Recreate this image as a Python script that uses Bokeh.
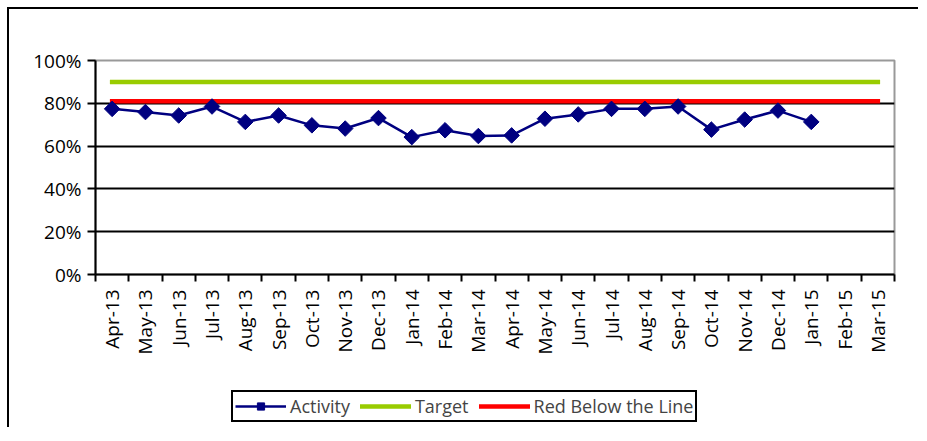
from bokeh.plotting import figure
from bokeh.layouts import column
from bokeh.models import FixedTicker, Legend, LegendItem, ColumnDataSource
from bokeh.embed import file_html
from bokeh.resources import INLINE

months = ["Apr-13", "May-13", "Jun-13", "Jul-13", "Aug-13", "Sep-13", "Oct-13", "Nov-13",
          "Dec-13", "Jan-14", "Feb-14", "Mar-14", "Apr-14", "May-14", "Jun-14", "Jul-14",
          "Aug-14", "Sep-14", "Oct-14", "Nov-14", "Dec-14", "Jan-15", "Feb-15", "Mar-15"]
activity = [77.4, 75.9, 74.3, 78.5, 71.3, 74.3, 69.7, 68.2, 73.1, 64.2, 67.4, 64.7,
            65.0, 72.8, 74.8, 77.4, 77.4, 78.5, 67.7, 72.4, 76.6, 71.3]
target = [90.0] * 24
red_line = [81.0] * 24
y_ticks = [0, 20, 40, 60, 80, 100]
y_labels = ["0%", "20%", "40%", "60%", "80%", "100%"]

FONT = "Open Sans"
FS = "19px"
NAVY, GREEN, RED = "#000080", "#99CC00", "#FF0000"

xs = [i + 0.5 for i in range(len(months))]
src_a = ColumnDataSource(dict(x=xs[:len(activity)], y=activity))
src_t = ColumnDataSource(dict(x=xs, y=target))
src_r = ColumnDataSource(dict(x=xs, y=red_line))

p = figure(width=909, height=348, output_backend="svg", toolbar_location=None,
           x_range=(0, len(months)), y_range=(0, 100),
           min_border_left=86, min_border_right=24, min_border_top=51, min_border_bottom=80)

p.outline_line_color = "#999999"
p.outline_line_width = 2

p.xgrid.visible = False
p.ygrid.ticker = FixedTicker(ticks=[t for t in y_ticks if 0 < t < 100])
p.ygrid.grid_line_color = "black"
p.ygrid.grid_line_width = 2

# y axis
p.yaxis.ticker = FixedTicker(ticks=y_ticks)
p.yaxis.major_label_overrides = {t: l for t, l in zip(y_ticks, y_labels)}
p.yaxis.axis_line_color = "black"
p.yaxis.axis_line_width = 2
p.yaxis.major_tick_line_width = 2
p.yaxis.major_tick_out = 8
p.yaxis.major_tick_in = 0
p.yaxis.minor_tick_line_color = None
p.yaxis.major_label_standoff = 6
p.yaxis.major_label_text_font = FONT
p.yaxis.major_label_text_font_size = FS
p.yaxis.major_label_text_color = "black"

# x axis
p.xaxis.ticker = FixedTicker(ticks=xs, minor_ticks=list(range(len(months) + 1)))
p.xaxis.major_label_overrides = {x: m for x, m in zip(xs, months)}
p.xaxis.major_label_orientation = 1.5707963
p.xaxis.axis_line_color = "black"
p.xaxis.axis_line_width = 2
p.xaxis.major_tick_line_color = None
p.xaxis.minor_tick_line_color = "black"
p.xaxis.minor_tick_line_width = 2
p.xaxis.minor_tick_out = 7
p.xaxis.minor_tick_in = 0
p.xaxis.major_label_standoff = 8
p.xaxis.major_label_text_font = FONT
p.xaxis.major_label_text_font_size = FS
p.xaxis.major_label_text_color = "black"


def draw(fig):
    t = fig.line("x", "y", source=src_t, line_color=GREEN, line_width=4.5, line_cap="square")
    r = fig.line("x", "y", source=src_r, line_color=RED, line_width=4.5, line_cap="square")
    a = fig.line("x", "y", source=src_a, line_color=NAVY, line_width=2.5)
    m = fig.scatter("x", "y", source=src_a, marker="square", angle=0.7854, size=11,
                    fill_color=NAVY, line_color=NAVY)
    return a, m, t, r


draw(p)

# legend strip below the chart (its glyphs fall outside its view)
lg = figure(width=909, height=70, output_backend="svg", toolbar_location=None,
            x_range=(-50, -49), y_range=(-50, -49),
            min_border_left=0, min_border_right=0, min_border_top=0, min_border_bottom=0)
lg.axis.visible = False
lg.grid.visible = False
lg.outline_line_color = None
la, lm, lt, lr = draw(lg)

legend = Legend(items=[LegendItem(label="Activity", renderers=[la, lm]),
                       LegendItem(label="Target", renderers=[lt]),
                       LegendItem(label="Red Below the Line", renderers=[lr])],
                orientation="horizontal", location=(136, 5),
                border_line_color="black", border_line_width=2, border_line_alpha=1,
                label_text_font=FONT, label_text_font_size="18px",
                glyph_width=51, glyph_height=18, label_standoff=4, spacing=10,
                padding=2, margin=0, background_fill_alpha=1)
lg.add_layout(legend, "center")

layout = column(p, lg, spacing=0,
                styles={"margin-left": "7px", "margin-top": "7px",
                        "border-style": "solid none none solid",
                        "border-width": "2px", "border-color": "black"})

open("out.html", "w").write(file_html(layout, INLINE))
